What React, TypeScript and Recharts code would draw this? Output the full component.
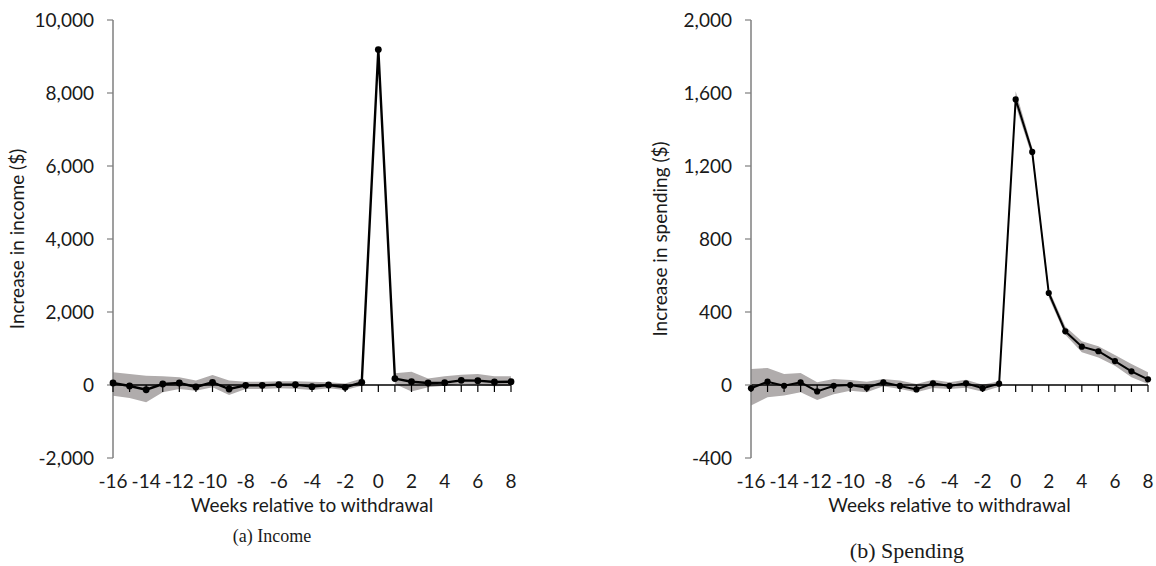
import {
  ComposedChart,
  Line,
  Area,
  XAxis,
  YAxis,
  Label,
} from 'recharts';

// weeks relative to withdrawal
const weeks = [-16, -15, -14, -13, -12, -11, -10, -9, -8, -7, -6, -5, -4, -3, -2, -1, 0, 1, 2, 3, 4, 5, 6, 7, 8];
const weekTicks = [-16, -14, -12, -10, -8, -6, -4, -2, 0, 2, 4, 6, 8];

// (a) income
const incomeMean = [55, -27, -130, 27, 55, -55, 73, -110, -10, -10, 10, 10, -45, 0, -65, 73, 9190, 175, 90, 55, 64, 128, 119, 82, 90];
const incomeLow = [-292, -356, -475, -200, -110, -155, -64, -275, -110, -110, -90, -100, -137, -90, -140, -20, 9100, 27, -180, -64, -20, 27, 0, -36, -20];
const incomeHigh = [347, 300, 255, 237, 210, 120, 275, 120, 90, 90, 100, 100, 90, 73, 40, 180, 9280, 320, 365, 180, 237, 283, 300, 237, 237];
const incomeTicks = [-2000, 0, 2000, 4000, 6000, 8000, 10000];

// (b) spending
const spendMean = [-18, 18, -4, 15, -35, -4, 0, -15, 15, -5, -24, 9, -5, 9, -18, 7, 1565, 1277, 504, 294, 210, 185, 131, 75, 31];
const spendLow = [-113, -67, -58, -40, -82, -50, -31, -40, -7, -22, -40, -16, -22, -15, -37, -9, 1530, 1250, 480, 275, 180, 151, 106, 42, 5];
const spendHigh = [88, 93, 60, 66, 15, 33, 27, 18, 33, 24, 5, 29, 15, 29, 2, 20, 1610, 1300, 525, 320, 240, 212, 164, 115, 70];
const spendTicks = [-400, 0, 400, 800, 1200, 1600, 2000];

const FONT = 'Lato, "Open Sans", sans-serif';
const FS = 19;
const TEXT = '#1a1a1a';
const AXIS = '#7f7f7f';
const BAND = '#b0acac';

const build = (mean: number[], lo: number[], hi: number[]) =>
  weeks.map((w, i) => ({ week: w, mean: mean[i], lo: lo[i], hi: hi[i], zero: 0 }));

const incomeData = build(incomeMean, incomeLow, incomeHigh);
const spendData = build(spendMean, spendLow, spendHigh);

const fmt = (v: number) => v.toLocaleString('en-US');

// small tick mark hanging under the zero line, one per week
const weekTick = (props: any) => {
  const { cx, cy, index } = props;
  return <line key={`t${index}`} x1={cx} x2={cx} y1={cy} y2={cy + 7} stroke="#000" strokeWidth={1.2} />;
};

interface PanelProps {
  data: any[];
  ticks: number[];
  yLabel: string;
  width: number;
  marginLeft: number;
  marginRight: number;
  yWidth: number;
  dotR: number;
  lineW: number;
}

function Panel({ data, ticks, yLabel, width, marginLeft, marginRight, yWidth, dotR, lineW }: PanelProps) {
  return (
    <ComposedChart
      width={width}
      height={520}
      data={data}
      margin={{ top: 20, right: marginRight, left: marginLeft, bottom: 6 }}
      style={{ fontFamily: FONT }}
    >
      <XAxis
        dataKey="week"
        type="number"
        domain={[-16, 8]}
        ticks={weekTicks}
        axisLine={false}
        tickLine={false}
        tickMargin={11}
        height={56}
        tick={{ fill: TEXT, fontSize: FS }}
      >
        <Label value="Weeks relative to withdrawal" position="insideBottom" offset={2} fill={TEXT} fontSize={FS} />
      </XAxis>
      <YAxis
        domain={[ticks[0], ticks[ticks.length - 1]]}
        ticks={ticks}
        width={yWidth}
        tickFormatter={fmt}
        axisLine={{ stroke: AXIS, strokeWidth: 1.5 }}
        tickLine={{ stroke: AXIS, strokeWidth: 1.2 }}
        tickMargin={13}
        tick={{ fill: TEXT, fontSize: FS }}
      >
        <Label
          value={yLabel}
          angle={-90}
          position="insideLeft"
          offset={5}
          fill={TEXT}
          fontSize={FS}
          style={{ textAnchor: 'middle' }}
        />
      </YAxis>

      {/* confidence band */}
      <Area
        dataKey={(d: any) => [d.lo, d.hi]}
        stroke="none"
        fill={BAND}
        fillOpacity={1}
        isAnimationActive={false}
      />

      {/* zero line with weekly ticks */}
      <Line dataKey="zero" stroke="#000" strokeWidth={1.3} dot={weekTick} activeDot={false} isAnimationActive={false} />

      {/* point estimates */}
      <Line
        dataKey="mean"
        stroke="#000"
        strokeWidth={lineW}
        dot={{ r: dotR, fill: '#000', stroke: '#000', strokeWidth: 0 }}
        activeDot={false}
        isAnimationActive={false}
      />
    </ComposedChart>
  );
}

export default function App() {
  return (
    <div style={{ position: 'absolute', left: 0, top: 0, width: 1156, height: 566, background: '#fff', overflow: 'hidden' }}>
      <div style={{ position: 'absolute', left: 0, top: 0 }}>
        <Panel
          data={incomeData}
          ticks={incomeTicks}
          yLabel="Increase in income ($)"
          width={560}
          marginLeft={12}
          marginRight={49}
          yWidth={101}
          dotR={3.4}
          lineW={2.4}
        />
      </div>
      <div style={{ position: 'absolute', left: 570, top: 0 }}>
        <Panel
          data={spendData}
          ticks={spendTicks}
          yLabel="Increase in spending ($)"
          width={586}
          marginLeft={85}
          marginRight={8}
          yWidth={96}
          dotR={3.1}
          lineW={2}
        />
      </div>
      <div
        style={{
          position: 'absolute', left: 172, width: 200, top: 526, textAlign: 'center',
          fontFamily: '"Liberation Serif", serif', fontSize: 18, color: TEXT,
        }}
      >
        (a) Income
      </div>
      <div
        style={{
          position: 'absolute', left: 807, width: 200, top: 539, textAlign: 'center', lineHeight: '24px',
          fontFamily: '"Liberation Serif", serif', fontSize: 22, color: TEXT, whiteSpace: 'nowrap',
        }}
      >
        (b) Spending
      </div>
    </div>
  );
}
